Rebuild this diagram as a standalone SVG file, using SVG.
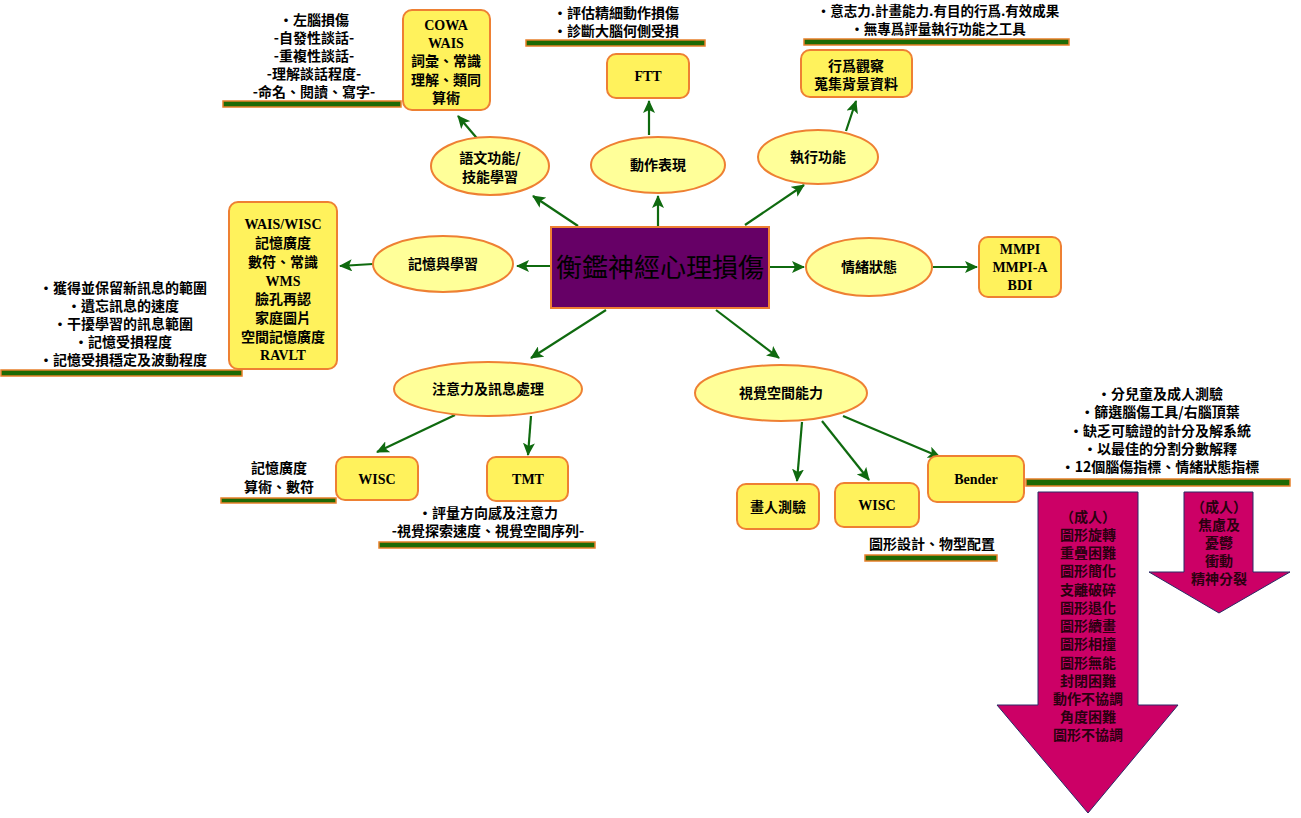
<svg xmlns="http://www.w3.org/2000/svg" width="1301" height="818" viewBox="0 0 1301 818">
<defs>
<marker id="ah" markerUnits="userSpaceOnUse" markerWidth="14" markerHeight="12" refX="12" refY="6" orient="auto">
<path d="M0,0 L13,6 L0,12 L3,6 Z" fill="#0f6a0f"/>
</marker>
<style>
.t{font-family:"Noto Sans CJK TC","Noto Sans CJK SC",sans-serif;font-weight:bold;font-size:14px;fill:#000;text-anchor:middle}
.l{font-family:"Liberation Serif","Noto Sans CJK TC",serif;font-weight:bold;font-size:14px;fill:#000;text-anchor:middle}
.el{fill:#ffff99;stroke:#ee8033;stroke-width:2}
.bx{fill:#fff25c;stroke:#ee8033;stroke-width:2}
.bar{fill:#1e6a05;stroke:#e7802a;stroke-width:1.5}
.c{stroke:#0f6a0f;stroke-width:2.2;fill:none;marker-end:url(#ah)}
.ra{fill:#cc0066;stroke:#2a2a66;stroke-width:1}
.rt{font-family:"Noto Sans CJK TC",sans-serif;font-weight:bold;font-size:14px;fill:#2a0010;text-anchor:middle}
</style>
</defs>
<rect width="1301" height="818" fill="#fff"/>

<g id="connectors">
<line class="c" x1="578" y1="226" x2="533" y2="196"/>
<line class="c" x1="481" y1="143" x2="458" y2="116"/>
<line class="c" x1="658" y1="226" x2="658" y2="196"/>
<line class="c" x1="649" y1="135" x2="649" y2="101"/>
<line class="c" x1="745" y1="225" x2="804" y2="185"/>
<line class="c" x1="846" y1="131" x2="856" y2="101"/>
<line class="c" x1="551" y1="266" x2="517" y2="266"/>
<line class="c" x1="373" y1="264" x2="340" y2="266"/>
<line class="c" x1="769" y1="267" x2="804" y2="267"/>
<line class="c" x1="933" y1="267" x2="977" y2="267"/>
<line class="c" x1="606" y1="310" x2="531" y2="358"/>
<line class="c" x1="455" y1="415" x2="377" y2="452"/>
<line class="c" x1="531" y1="416" x2="528" y2="455"/>
<line class="c" x1="716" y1="310" x2="779" y2="358"/>
<line class="c" x1="802" y1="422" x2="797" y2="481"/>
<line class="c" x1="822" y1="421" x2="869" y2="480"/>
<line class="c" x1="843" y1="416" x2="940" y2="457"/>
</g>

<g id="center">
<rect x="551" y="227" width="218" height="81" fill="#660066" stroke="#ee8033" stroke-width="2"/>
<text x="660" y="277" style="font-family:'Noto Sans CJK TC',sans-serif;font-size:26px;fill:#000;text-anchor:middle">衡鑑神經心理損傷</text>
</g>

<g id="n-yuwen">
<ellipse class="el" cx="490" cy="166" rx="59" ry="29"/>
<text class="t" x="490" y="163">語文功能/</text>
<text class="t" x="490" y="182">技能學習</text>
</g>
<g id="n-dongzuo">
<ellipse class="el" cx="658" cy="165" rx="67" ry="28"/>
<text class="t" x="658" y="170">動作表現</text>
</g>
<g id="n-zhixing">
<ellipse class="el" cx="818" cy="157" rx="60" ry="27"/>
<text class="t" x="818" y="162">執行功能</text>
</g>
<g id="n-jiyi">
<ellipse class="el" cx="443" cy="264" rx="70" ry="28"/>
<text class="t" x="443" y="269">記憶與學習</text>
</g>
<g id="n-qingxu">
<ellipse class="el" cx="869" cy="267" rx="63" ry="29"/>
<text class="t" x="869" y="272">情緒狀態</text>
</g>
<g id="n-zhuyi">
<ellipse class="el" cx="488" cy="389" rx="94" ry="27"/>
<text class="t" x="488" y="394">注意力及訊息處理</text>
</g>
<g id="n-shijue">
<ellipse class="el" cx="781" cy="393" rx="86" ry="28"/>
<text class="t" x="781" y="398">視覺空間能力</text>
</g>

<g id="b-cowa">
<rect class="bx" x="403" y="10" width="87" height="100" rx="9"/>
<text class="l" x="446" y="30">COWA</text>
<text class="l" x="446" y="48">WAIS</text>
<text class="t" x="446" y="66">詞彙、常識</text>
<text class="t" x="446" y="85">理解、類同</text>
<text class="t" x="446" y="103">算術</text>
</g>
<g id="b-ftt">
<rect class="bx" x="607" y="54" width="82" height="44" rx="9"/>
<text class="l" x="648" y="81">FTT</text>
</g>
<g id="b-xingwei">
<rect class="bx" x="801" y="50" width="111" height="47" rx="9"/>
<text class="t" x="856" y="71">行爲觀察</text>
<text class="t" x="856" y="89">蒐集背景資料</text>
</g>
<g id="b-wais">
<rect class="bx" x="229" y="202" width="108" height="167" rx="9"/>
<text class="l" x="283" y="229">WAIS/WISC</text>
<text class="t" x="283" y="248">記憶廣度</text>
<text class="t" x="283" y="267">數符、常識</text>
<text class="l" x="283" y="286">WMS</text>
<text class="t" x="283" y="304">臉孔再認</text>
<text class="t" x="283" y="323">家庭圖片</text>
<text class="t" x="283" y="342">空間記憶廣度</text>
<text class="l" x="283" y="360">RAVLT</text>
</g>
<g id="b-mmpi">
<rect class="bx" x="979" y="237" width="82" height="60" rx="9"/>
<text class="l" x="1020" y="254">MMPI</text>
<text class="l" x="1020" y="272">MMPI-A</text>
<text class="l" x="1020" y="290">BDI</text>
</g>
<g id="b-wisc1">
<rect class="bx" x="336" y="457" width="82" height="43" rx="9"/>
<text class="l" x="377" y="484">WISC</text>
</g>
<g id="b-tmt">
<rect class="bx" x="487" y="457" width="81" height="44" rx="9"/>
<text class="l" x="528" y="484">TMT</text>
</g>
<g id="b-huaren">
<rect class="bx" x="737" y="484" width="82" height="45" rx="9"/>
<text class="t" x="778" y="512">畫人測驗</text>
</g>
<g id="b-wisc2">
<rect class="bx" x="835" y="483" width="84" height="44" rx="9"/>
<text class="l" x="877" y="510">WISC</text>
</g>
<g id="b-bender">
<rect class="bx" x="928" y="456" width="96" height="46" rx="9"/>
<text class="l" x="976" y="484">Bender</text>
</g>

<g id="note-yuwen">
<text class="t" x="314" y="25">‧左腦損傷</text>
<text class="t" x="314" y="43">-自發性談話-</text>
<text class="t" x="314" y="61">-重複性談話-</text>
<text class="t" x="314" y="79">-理解談話程度-</text>
<text class="t" x="314" y="97">-命名、閱讀、寫字-</text>
<rect class="bar" x="223" y="101" width="178" height="6"/>
</g>
<g id="note-dongzuo">
<text class="t" x="616" y="18">‧評估精細動作損傷</text>
<text class="t" x="616" y="36">‧診斷大腦何側受損</text>
<rect class="bar" x="526" y="40" width="179" height="6"/>
</g>
<g id="note-zhixing">
<text class="t" x="938" y="16" style="font-size:13.5px">‧意志力.計畫能力.有目的行爲.有效成果</text>
<text class="t" x="938" y="34" style="font-size:13.5px">‧無專爲評量執行功能之工具</text>
<rect class="bar" x="804" y="39" width="265" height="6"/>
</g>
<g id="note-jiyi">
<text class="t" x="123" y="293">‧獲得並保留新訊息的範圍</text>
<text class="t" x="123" y="311">‧遺忘訊息的速度</text>
<text class="t" x="123" y="329">‧干擾學習的訊息範圍</text>
<text class="t" x="123" y="347">‧記憶受損程度</text>
<text class="t" x="123" y="365">‧記憶受損穩定及波動程度</text>
<rect class="bar" x="1" y="370" width="241" height="6"/>
</g>
<g id="note-wisc1">
<text class="t" x="279" y="473">記憶廣度</text>
<text class="t" x="279" y="492">算術、數符</text>
<rect class="bar" x="221" y="498" width="115" height="5"/>
</g>
<g id="note-tmt">
<text class="t" x="488" y="518">‧評量方向感及注意力</text>
<text class="t" x="488" y="536">-視覺探索速度、視覺空間序列-</text>
<rect class="bar" x="379" y="542" width="216" height="6"/>
</g>
<g id="note-bender">
<text class="t" x="1160" y="399">‧分兒童及成人測驗</text>
<text class="t" x="1160" y="417">‧篩選腦傷工具/右腦頂葉</text>
<text class="t" x="1160" y="436">‧缺乏可驗證的計分及解系統</text>
<text class="t" x="1160" y="454">‧以最佳的分割分數解釋</text>
<text class="t" x="1160" y="472">‧12個腦傷指標、情緒狀態指標</text>
<rect class="bar" x="1026" y="479" width="264" height="7"/>
</g>
<g id="note-wisc2">
<text class="t" x="932" y="549">圖形設計、物型配置</text>
<rect class="bar" x="865" y="555" width="132" height="6"/>
</g>

<g id="arrow-big">
<path class="ra" d="M1038,492 H1138 V705 H1178 L1088,813 L997,705 H1038 Z"/>
<text class="rt" x="1088" y="522">（成人）</text>
<text class="rt" x="1088" y="540">圖形旋轉</text>
<text class="rt" x="1088" y="558">重疊困難</text>
<text class="rt" x="1088" y="576">圖形簡化</text>
<text class="rt" x="1088" y="595">支離破碎</text>
<text class="rt" x="1088" y="613">圖形退化</text>
<text class="rt" x="1088" y="631">圖形續畫</text>
<text class="rt" x="1088" y="649">圖形相撞</text>
<text class="rt" x="1088" y="668">圖形無能</text>
<text class="rt" x="1088" y="686">封閉困難</text>
<text class="rt" x="1088" y="704">動作不協調</text>
<text class="rt" x="1088" y="722">角度困難</text>
<text class="rt" x="1088" y="740">圖形不協調</text>
</g>
<g id="arrow-small">
<path class="ra" d="M1184,492 H1253 V572 H1290 L1219,613 L1149,572 H1184 Z"/>
<text class="rt" x="1219" y="512">（成人）</text>
<text class="rt" x="1219" y="530">焦慮及</text>
<text class="rt" x="1219" y="548">憂鬱</text>
<text class="rt" x="1219" y="566">衝動</text>
<text class="rt" x="1219" y="584">精神分裂</text>
</g>
</svg>
